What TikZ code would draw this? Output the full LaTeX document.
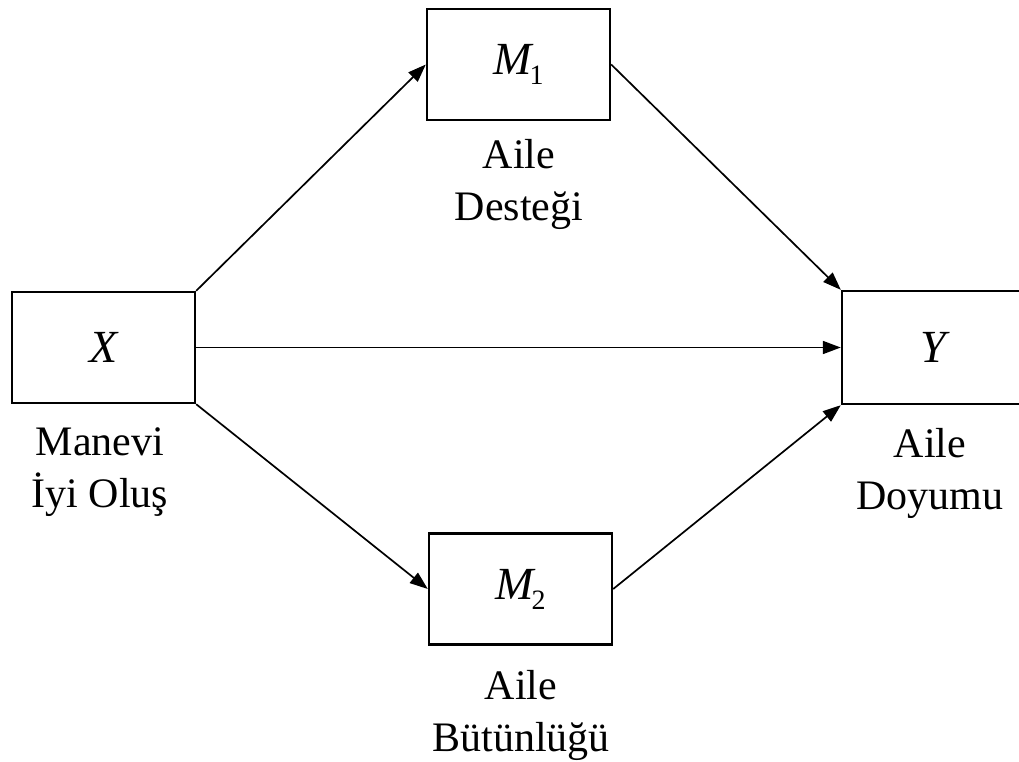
\documentclass[tikz,border=0pt]{standalone}
\usepackage{fontspec}
\setmainfont{Liberation Serif}
\usetikzlibrary{arrows.meta}
\begin{document}
\begin{tikzpicture}[x=1pt,y=-1pt,
  box/.style={draw,line width=2.4pt,minimum width=183pt,minimum height=111pt,inner sep=0pt,font=\fontsize{46}{46}\selectfont\itshape},
  lbl/.style={align=center,font=\fontsize{42}{52}\selectfont},
  arr/.style={line width=1.7pt,-{Triangle[length=18pt,width=13pt]}}]
\clip (0,0) rectangle (1019,762);
\fill[white] (0,0) rectangle (1019,762);
\newcommand{\msub}[1]{M\kern-0.04em\raisebox{-0.22em}{\upshape\fontsize{28}{28}\selectfont #1}}
\node[box] (X) at (103.5,347.5) {X};
\node[box] (M1) at (518.5,64.5) {\msub{1}};
\node[box] (M2) at (520.5,589) {\msub{2}};
\node[box,minimum height=113pt] (Y) at (933.5,347.5) {Y};
\node[lbl] (lx) at (100,472) {Manevi\\İyi Oluş};
\node[lbl] (lm1) at (519,184) {Aile\\Desteği};
\node[lbl] (lm2) at (521,715) {Aile\\Bütünlüğü};
\node[lbl] (ly) at (930,473) {Aile\\Doyumu};
\draw[arr] (X.north east) -- (M1.west);
\draw[arr] (M1.east) -- (Y.north west);
\draw[arr] (X.east) -- (Y.west);
\draw[arr] (X.south east) -- (M2.west);
\draw[arr] (M2.east) -- (Y.south west);
\end{tikzpicture}
\end{document}
